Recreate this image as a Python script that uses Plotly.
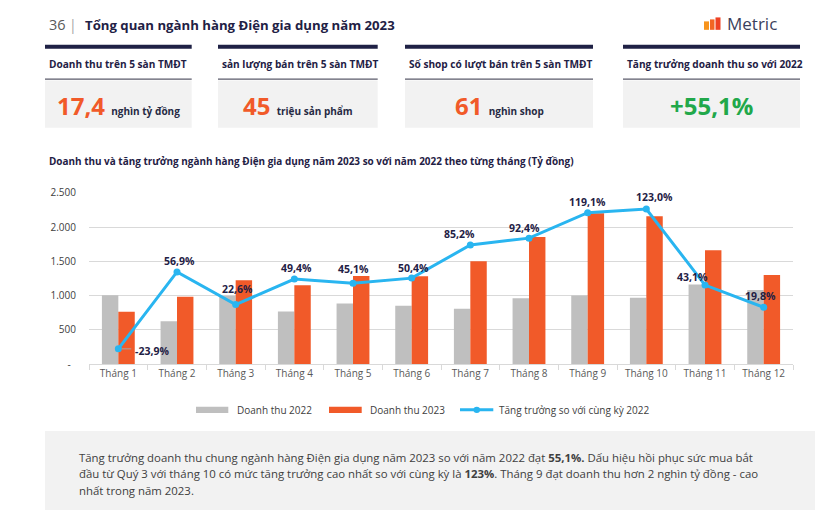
import plotly.graph_objects as go

# ---------------- data ----------------
months = ["Tháng 1", "Tháng 2", "Tháng 3", "Tháng 4", "Tháng 5", "Tháng 6",
          "Tháng 7", "Tháng 8", "Tháng 9", "Tháng 10", "Tháng 11", "Tháng 12"]
rev_2022 = [1007, 626, 998, 770, 886, 852, 809, 963, 1002, 968, 1161, 1084]
rev_2023 = [766, 983, 1224, 1151, 1286, 1282, 1503, 1854, 2201, 2157, 1662, 1300]
growth = [-23.9, 56.9, 22.6, 49.4, 45.1, 50.4, 85.2, 92.4, 119.1, 123.0, 43.1, 19.8]

y_tickvals = [0, 500, 1000, 1500, 2000, 2500]
y_ticktext = ["-\u00a0\u00a0", "500", "1.000", "1.500", "2.000", "2.500"]

series_names = ["Doanh thu 2022", "Doanh thu 2023", "Tăng trưởng so với cùng kỳ 2022"]

page_no = "36"
page_title = "Tổng quan ngành hàng Điện gia dụng năm 2023"
brand = "Metric"
kpi_labels = ["Doanh thu trên 5 sàn TMĐT", "sản lượng bán trên 5 sàn TMĐT",
              "Số shop có lượt bán trên 5 sàn TMĐT", "Tăng trưởng doanh thu so với 2022"]
kpi_values = ["17,4", "45", "61", "+55,1%"]
kpi_units = ["nghìn tỷ đồng", "triệu sản phẩm", "nghìn shop", ""]
chart_title = ("Doanh thu và tăng trưởng ngành hàng Điện gia dụng năm 2023 "
               "so với năm 2022 theo từng tháng (Tỷ đồng)")
note_lines = [
    "Tăng trưởng doanh thu chung ngành hàng Điện gia dụng năm 2023 so với năm 2022 đạt "
    "<b>55,1%.</b> Dấu hiệu hồi phục sức mua bắt",
    "đầu từ Quý 3 với tháng 10 có mức tăng trưởng cao nhất so với cùng kỳ là <b>123%</b>. "
    "Tháng 9 đạt doanh thu hơn 2 nghìn tỷ đồng - cao",
    "nhất trong năm 2023.",
]

# ---------------- styles ----------------
W = 815
REF_H = 510       # design height (pixel coordinates below are in this frame)
H = 520           # rendered page height (viewport is photographed and fitted to 510)
VS = H / REF_H
FONT = "Open Sans"
NAVY = "#1f2145"
ORANGE = "#f15a29"
GRAY_BAR = "#bfbfbf"
BLUE = "#29b5f0"
GREEN = "#21a84a"
BOX = "#f2f2f2"

def X(px):
    return px / W

def Y(py):
    return 1 - py / REF_H

plot_l, plot_r, plot_t, plot_b = 89, 793, 187.3, 360

# label offsets (pixels) for the growth labels
lab_dx = [15, 2, 2, 2, 0, 2, -11, -5, 0, 8, -13, -3]
lab_dy = [-2, 11, 15, 11, 14, 10, 11, 10, 11, 12, 8, 11]
lab_anchor = ["left"] + ["center"] * 11

fig = go.Figure()
fig.add_trace(go.Bar(x=months, y=rev_2022, name=series_names[0],
                     marker=dict(color=GRAY_BAR, line=dict(width=0)), showlegend=False))
fig.add_trace(go.Bar(x=months, y=rev_2023, name=series_names[1],
                     marker=dict(color=ORANGE, line=dict(width=0)), showlegend=False))
fig.add_trace(go.Scatter(x=months, y=growth, name=series_names[2], yaxis="y2",
                         mode="lines+markers", line=dict(color=BLUE, width=3),
                         marker=dict(color=BLUE, size=7), showlegend=False))

shapes = []
annotations = []

# ---- header ----
annotations.append(dict(text=page_no, x=X(46.5), y=Y(18), xanchor="left", yanchor="middle",
                        font=dict(family=FONT, size=14.5, color="#595959")))
annotations.append(dict(text="|", x=X(73), y=Y(18), xanchor="center", yanchor="middle",
                        font=dict(family=FONT, size=14, color="#a6a6a6")))
annotations.append(dict(text="<b>" + page_title + "</b>", x=X(82.5), y=Y(18), xanchor="left",
                        yanchor="middle", font=dict(family=FONT, size=13.2, color=NAVY)))
# logo
logo_bars = [(704, 709, 14.5, "#f7941d"), (710, 714.5, 12.5, "#f26522"), (715.5, 720.5, 10.5, "#ee4123")]
for x0, x1, top, col in logo_bars:
    shapes.append(dict(type="rect", xref="paper", yref="paper", x0=X(x0), x1=X(x1),
                       y0=Y(23), y1=Y(top), fillcolor=col, line=dict(width=0)))
annotations.append(dict(text=brand, x=X(725), y=Y(17), xanchor="left", yanchor="middle",
                        font=dict(family=FONT, size=17, color="#3b3f5c")))

# ---- KPI boxes ----
boxes = [(45, 191.7), (218, 377.7), (405, 593), (623, 800)]
for i, (x0, x1) in enumerate(boxes):
    shapes.append(dict(type="rect", xref="paper", yref="paper", x0=X(x0), x1=X(x1),
                       y0=Y(42), y1=Y(38), fillcolor=NAVY, line=dict(width=0)))
    shapes.append(dict(type="line", xref="paper", yref="paper", x0=X(x0), x1=X(x1),
                       y0=Y(72.7), y1=Y(72.7), line=dict(color="#5a5a6a", width=1.2)))
    shapes.append(dict(type="rect", xref="paper", yref="paper", x0=X(x0), x1=X(x1),
                       y0=Y(121.7), y1=Y(74), fillcolor=BOX, line=dict(width=0), layer="below"))
    annotations.append(dict(text="<b>" + kpi_labels[i] + "</b>", x=X(x0 + 2), y=Y(57.3),
                            xanchor="left", yanchor="middle",
                            font=dict(family=FONT, size=10.1, color=NAVY)))
    col = GREEN if i == 3 else ORANGE
    txt = "<b>" + kpi_values[i] + "</b>"
    if kpi_units[i]:
        txt += " <span style='font-size:10px;color:%s'><b>%s</b></span>" % ("#262a44", kpi_units[i])
    annotations.append(dict(text=txt, x=X((x0 + x1) / 2), y=Y(99), xanchor="center",
                            yanchor="middle", font=dict(family=FONT, size=24, color=col)))

# ---- chart title ----
annotations.append(dict(text="<b>" + chart_title + "</b>", x=X(47), y=Y(155.7), xanchor="left",
                        yanchor="middle", font=dict(family=FONT, size=9.95, color=NAVY)))

# ---- growth labels ----
for i, m in enumerate(months):
    s = ("%.1f" % growth[i]).replace(".", ",") + "%"
    annotations.append(dict(text="<b>" + s + "</b>", x=m, y=growth[i], xref="x", yref="y2",
                            xanchor=lab_anchor[i], yanchor="middle", xshift=lab_dx[i],
                            yshift=lab_dy[i] * VS, showarrow=False,
                            font=dict(family=FONT, size=10.5, color=NAVY)))
# leader line of the first label
shapes.append(dict(type="line", xref="x", yref="y2", x0=0.06, x1=0.22,
                   y0=growth[0], y1=growth[0], line=dict(color="#a6a6a6", width=1)))

# ---- legend (custom) ----
leg_y = 406
shapes.append(dict(type="rect", xref="paper", yref="paper", x0=X(196), x1=X(228.3),
                   y0=Y(409.3), y1=Y(403), fillcolor=GRAY_BAR, line=dict(width=0)))
shapes.append(dict(type="rect", xref="paper", yref="paper", x0=X(329), x1=X(361.7),
                   y0=Y(409.3), y1=Y(403), fillcolor=ORANGE, line=dict(width=0)))
shapes.append(dict(type="line", xref="paper", yref="paper", x0=X(460), x1=X(493.3),
                   y0=Y(leg_y), y1=Y(leg_y), line=dict(color=BLUE, width=3)))
shapes.append(dict(type="circle", xref="paper", yref="paper", x0=X(473.5), x1=X(480),
                   y0=Y(409.2), y1=Y(402.8), fillcolor=BLUE, line=dict(width=0)))
for txt, xx in zip(series_names, [235, 367.5, 497]):
    annotations.append(dict(text=txt, x=X(xx), y=Y(leg_y), xanchor="left", yanchor="middle",
                            font=dict(family=FONT, size=10, color="#404040")))

# ---- note box ----
shapes.append(dict(type="rect", xref="paper", yref="paper", x0=X(45), x1=X(815),
                   y0=Y(510), y1=Y(427.3), fillcolor=BOX, line=dict(width=0), layer="below"))
for k, line in enumerate(note_lines):
    annotations.append(dict(text=line, x=X(76.5), y=Y(454.3 + 16.3 * k), xanchor="left",
                            yanchor="middle", font=dict(family=FONT, size=11.4, color="#404040")))

for a in annotations:
    a.setdefault("showarrow", False)
    a.setdefault("xref", "paper")
    a.setdefault("yref", "paper")

fig.update_layout(
    width=W, height=H,
    margin=dict(l=0, r=0, t=0, b=0),
    paper_bgcolor="white", plot_bgcolor="rgba(0,0,0,0)",
    barmode="group", bargap=0.44, bargroupgap=0,
    font=dict(family=FONT),
    showlegend=False,
    shapes=shapes,
    annotations=annotations,
    xaxis=dict(domain=[X(plot_l), X(plot_r)], type="category", range=[-0.5, 11.5],
               autorange=False, tickson="boundaries",
               ticks="outside", ticklen=5, tickcolor="#d9d9d9", showline=True,
               linecolor="#d9d9d9", linewidth=1, showgrid=False,
               tickfont=dict(family=FONT, size=10, color="#595959"), fixedrange=True),
    yaxis=dict(domain=[Y(plot_b), Y(plot_t)], range=[0, 2500], autorange=False,
               tickvals=y_tickvals,
               ticktext=y_ticktext, showgrid=True, gridcolor="#d9d9d9", gridwidth=1,
               zeroline=False, showline=False, ticks="", ticklabelstandoff=12,
               tickfont=dict(family=FONT, size=10, color="#404040"), fixedrange=True),
    yaxis2=dict(domain=[Y(plot_b), Y(plot_t)], range=[-40, 140], autorange=False,
                overlaying="y", side="right", visible=False, showgrid=False, fixedrange=True),
)

page_css = (
    "var de=document.documentElement, b=document.body;"
    "de.style.margin='0'; de.style.padding='0'; de.style.overflow='hidden';"
    "b.style.margin='0'; b.style.padding='0'; b.style.overflow='hidden';"
)

fig.write_html("out.html", config={"displayModeBar": False}, post_script=page_css)
